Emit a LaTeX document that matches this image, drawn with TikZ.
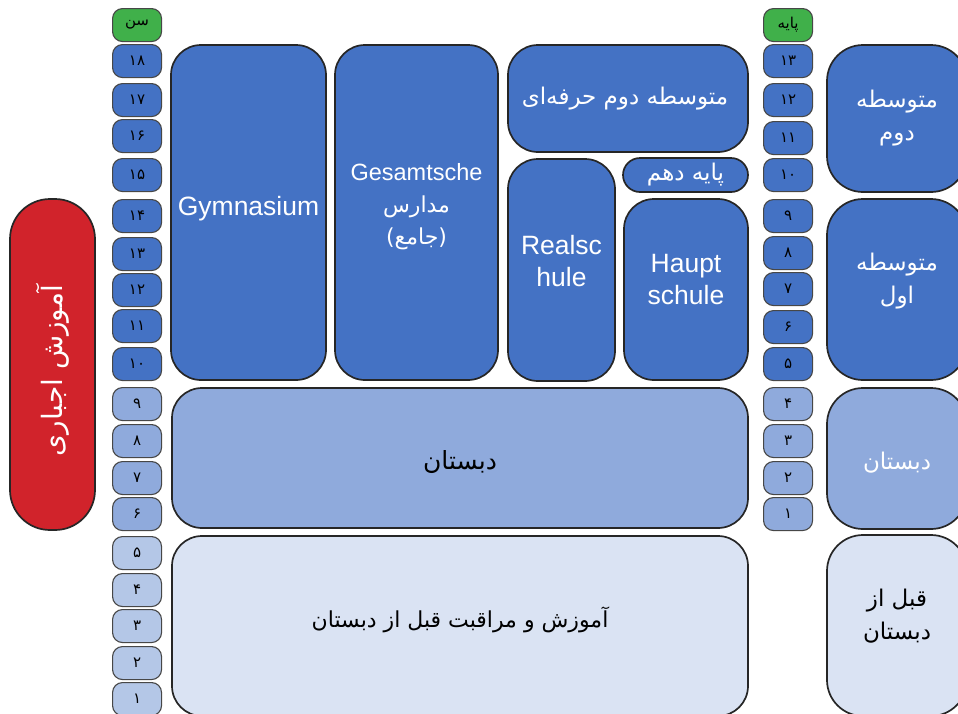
\documentclass[tikz,border=0pt]{standalone}
\usepackage{fontspec}
\setmainfont{Liberation Sans}
\newfontfamily\persa[Script=Arabic]{DejaVu Sans}
\TeXXeTstate=1
\definecolor{azulosc}{RGB}{68,114,196}
\definecolor{azulmed}{RGB}{143,170,220}
\definecolor{azulcla}{RGB}{180,199,231}
\definecolor{azulpal}{RGB}{218,227,243}
\definecolor{verde}{RGB}{64,176,74}
\definecolor{rojo}{RGB}{209,35,43}
\definecolor{borde}{RGB}{38,38,38}
% texto persa de derecha a izquierda
\newcommand{\fa}[1]{{\persa\beginR #1\endR}}

\begin{document}
\begin{tikzpicture}[   % opciones por defecto
      x=1pt, y=-1pt,     % un pixel por punto, y hacia abajo
      font=\fontsize{26.5}{32}\selectfont
    ]
    \tikzstyle{caja}=[draw=borde, line width=1.7pt, rounded corners=30pt,
      anchor=north west, inner sep=0pt, outer sep=0pt];
    \tikzstyle{edad}=[draw=borde!85, line width=1.1pt, rounded corners=10pt,
      anchor=north west, inner sep=0pt, minimum width=49pt, minimum height=33pt,
      font=\persa\fontsize{15}{16}\selectfont];
    \tikzstyle{rotulo}=[text=white, align=center, inner sep=0pt];
    \tikzstyle{farsi}=[rotulo, font=\persa\fontsize{23}{33}\selectfont];
    %
    % marco de la imagen
    \useasboundingbox (0,0) rectangle (958,713);
    %
    % columna de edades
    \node [edad, fill=verde] (sen) at (112,8) {\fa{سن}};
    \foreach \num/\y/\col [count=\i] in {۱۸/44/azulosc, ۱۷/83/azulosc,
        ۱۶/119/azulosc, ۱۵/158/azulosc, ۱۴/199/azulosc, ۱۳/237/azulosc,
        ۱۲/273/azulosc, ۱۱/309/azulosc, ۱۰/347/azulosc, ۹/387/azulmed,
        ۸/424/azulmed, ۷/461/azulmed, ۶/497/azulmed, ۵/536/azulcla,
        ۴/573/azulcla, ۳/609/azulcla, ۲/646/azulcla, ۱/682/azulcla} {
      \node [edad, fill=\col] (edad\i) at (112,\y) {\num};
    }
    %
    % columna de grados
    \node [edad, fill=verde] (paye) at (763,8) {\fa{پایه}};
    \foreach \num/\y/\col [count=\i] in {۱۳/44/azulosc, ۱۲/83/azulosc,
        ۱۱/121/azulosc, ۱۰/158/azulosc, ۹/199/azulosc, ۸/236/azulosc,
        ۷/272/azulosc, ۶/310/azulosc, ۵/347/azulosc, ۴/387/azulmed,
        ۳/424/azulmed, ۲/461/azulmed, ۱/497/azulmed} {
      \node [edad, fill=\col] (grado\i) at (763,\y) {\num};
    }
    %
    % escolaridad obligatoria
    \node [caja, fill=rojo, rounded corners=40pt, minimum width=85pt,
      minimum height=331pt] (oblig) at (10,199) {};
    \node [farsi, rotate=90, font=\persa\fontsize{28}{30}\selectfont]
      (obligt) at ([yshift=-6pt]oblig.center) {\fa{آموزش اجباری}};
    %
    % secundaria
    \node [caja, fill=azulosc, minimum width=155pt, minimum height=335pt]
      (gym) at (171,45) {};
    \node [rotulo] (gymt) at ([yshift=4pt]gym.center) {Gymnasium};
    \node [caja, fill=azulosc, minimum width=163pt, minimum height=335pt]
      (gesamt) at (335,45) {};
    \node [rotulo] (gesamtt) at ([yshift=6pt]gesamt.center)
      {\fontsize{23.5}{35}\selectfont Gesamtsche\\
       \fa{\fontsize{22}{33}\selectfont مدارس}\\
       \fa{\fontsize{22}{33}\selectfont (جامع)}};
    \node [caja, fill=azulosc, minimum width=240pt, minimum height=107pt]
      (prof) at (508,45) {};
    \node [farsi] (proft) at ([xshift=-3pt]prof.center) {\fa{متوسطه دوم حرفه‌ای}};
    \node [caja, fill=azulosc, rounded corners=17pt, minimum width=125pt,
      minimum height=34pt] (dahom) at (623,158) {};
    \node [farsi] (dahomt) at (dahom.center) {\fa{پایه دهم}};
    \node [caja, fill=azulosc, minimum width=107pt, minimum height=222pt]
      (real) at (508,159) {};
    \node [rotulo] (realt) at ([yshift=9pt]real.center) {Realsc\\hule};
    \node [caja, fill=azulosc, minimum width=124pt, minimum height=181pt]
      (haupt) at (624,199) {};
    \node [rotulo] (hauptt) at ([yshift=10pt]haupt.center) {Haupt\\schule};
    %
    % primaria y preescolar
    \node [caja, fill=azulmed, minimum width=576pt, minimum height=140pt]
      (dab) at (172,388) {};
    \node [farsi, text=black, font=\persa\fontsize{25}{33}\selectfont]
      (dabt) at ([yshift=-4pt]dab.center) {\fa{دبستان}};
    \node [caja, fill=azulpal, minimum width=576pt, minimum height=180pt]
      (pre) at (172,536) {};
    \node [farsi, text=black, font=\persa\fontsize{22}{33}\selectfont]
      (pret) at ([yshift=6pt]pre.center) {\fa{آموزش و مراقبت قبل از دبستان}};
    %
    % niveles a la derecha
    \node [caja, fill=azulosc, rounded corners=36pt, minimum width=140pt,
      minimum height=147pt] (mot2) at (827,45) {};
    \node [farsi] (mot2t) at (mot2.center -| 897,0)
      {\fa{متوسطه}\\ \fa{دوم}};
    \node [caja, fill=azulosc, rounded corners=36pt, minimum width=140pt,
      minimum height=181pt] (mot1) at (827,199) {};
    \node [farsi] (mot1t) at ([yshift=8pt]mot1.center -| 897,0)
      {\fa{متوسطه}\\ \fa{اول}};
    \node [caja, fill=azulmed, rounded corners=36pt, minimum width=140pt,
      minimum height=141pt] (dabd) at (827,388) {};
    \node [farsi] (dabdt) at ([yshift=-4pt]dabd.center -| 897,0) {\fa{دبستان}};
    \node [caja, fill=azulpal, rounded corners=36pt, minimum width=140pt,
      minimum height=181pt] (pred) at (827,535) {};
    \node [farsi, text=black] (predt) at ([yshift=9pt]pred.center -| 897,0)
      {\fa{قبل از}\\ \fa{دبستان}};
  \end{tikzpicture}
\end{document}
